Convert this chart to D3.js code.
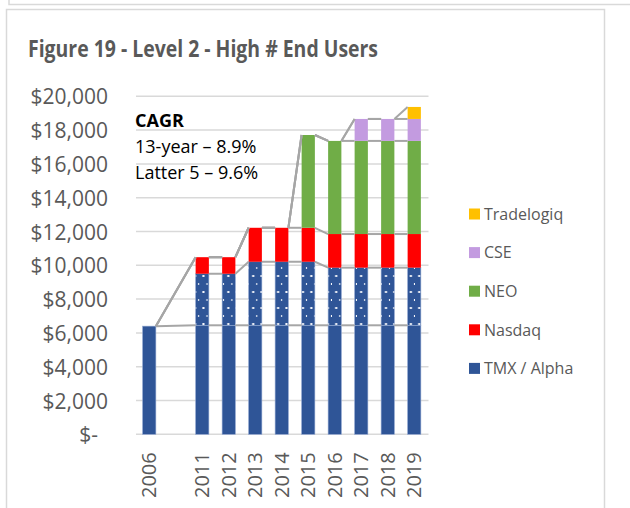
<!DOCTYPE html>
<html>
<head>
<meta charset="utf-8">
<script src="https://cdn.jsdelivr.net/npm/d3@7"></script>
<style>
  body { margin: 0; background: #fff; }
  svg { display: block; font-family: "Open Sans", sans-serif; }
</style>
</head>
<body>
<svg id="chart" width="630" height="508"></svg>
<script>
// categories (the blank slot is the gap between 2006 and 2011)
const categories = ["2006", "gap", "2011", "2012", "2013", "2014", "2015", "2016", "2017", "2018", "2019"];
const catLabels = ["2006", "", "2011", "2012", "2013", "2014", "2015", "2016", "2017", "2018", "2019"];

// stacked values, $ per month (null = no value)
const tmx        = [6400, null, 6450, 6450, 6450, 6450, 6450, 6450, 6450, 6450, 6450];
const alpha      = [null, null, 3050, 3050, 3760, 3760, 3760, 3410, 3410, 3410, 3410];
const nasdaq     = [null, null, 980, 980, 2010, 2010, 2010, 1990, 1990, 1990, 1990];
const neo        = [0, null, 0, 0, 0, 0, 5490, 5510, 5510, 5510, 5510];
const cse        = [0, null, 0, 0, 0, 0, 0, 0, 1300, 1300, 1300];
const tradelogiq = [0, null, 0, 0, 0, 0, 0, 0, 0, 0, 710];

const yTicks = [0, 2000, 4000, 6000, 8000, 10000, 12000, 14000, 16000, 18000, 20000];
const cagrLines = ["13-year \u2013 8.9%", "Latter 5 \u2013 9.6%"];

const series = [
    { name: "TMX", values: tmx, fill: "#2F5597" },
    { name: "Alpha", values: alpha, fill: "url(#dots)" },
    { name: "Nasdaq", values: nasdaq, fill: "#FF0000" },
    { name: "NEO", values: neo, fill: "#70AD47" },
    { name: "CSE", values: cse, fill: "#C39BE0" },
    { name: "Tradelogiq", values: tradelogiq, fill: "#FFC000" }
];
const legendItems = [
    { label: "Tradelogiq", color: "#FFC000" },
    { label: "CSE", color: "#C39BE0" },
    { label: "NEO", color: "#70AD47" },
    { label: "Nasdaq", color: "#FF0000" },
    { label: "TMX / Alpha", color: "#2F5597" }
];

const svg = d3.select("#chart");
const grey = "#595959";

// frames
svg.append("path").attr("d", "M9,0 V4.5 H630").attr("fill", "none")
    .attr("stroke", "#D9D9D9").attr("stroke-width", 1.5);
svg.append("path").attr("d", "M6.5,510 V9.5 H604.5 V510").attr("fill", "none")
    .attr("stroke", "#D9D9D9").attr("stroke-width", 1.5);

// dotted fill for the Alpha part
const defs = svg.append("defs");
const pat = defs.append("pattern").attr("id", "dots")
    .attr("patternUnits", "userSpaceOnUse").attr("width", 8.3).attr("height", 16);
pat.append("rect").attr("width", 8.3).attr("height", 16).attr("fill", "#2F5597");
pat.append("rect").attr("x", 3.2).attr("y", 3).attr("width", 2).attr("height", 2).attr("fill", "#fff");
pat.append("rect").attr("x", 7.3).attr("y", 11).attr("width", 2).attr("height", 2).attr("fill", "#fff");

// title
svg.append("text")
    .attr("x", 28).attr("y", 57)
    .attr("font-size", 23).attr("font-weight", "bold").attr("fill", grey)
    .attr("textLength", 350).attr("lengthAdjust", "spacingAndGlyphs")
    .text("Figure 19 - Level 2 - High # End Users");

const plotLeft = 136, plotRight = 427.5, plotTop = 96.3, plotBottom = 434.3;

const x = d3.scaleBand().domain(categories).range([plotLeft, plotRight])
    .paddingInner(0.5).paddingOuter(0.25);
const y = d3.scaleLinear().domain([0, 20000]).range([plotBottom, plotTop]);

// gridlines
svg.append("g").selectAll("line").data(yTicks).join("line")
    .attr("x1", plotLeft).attr("x2", plotRight + 1)
    .attr("y1", d => y(d)).attr("y2", d => y(d))
    .attr("stroke", "#D9D9D9").attr("stroke-width", 1.5);

// y axis
const yAxis = svg.append("g").attr("transform", "translate(" + plotLeft + ",0)")
    .call(d3.axisLeft(y).tickValues(yTicks).tickSize(0).tickPadding(28)
        .tickFormat(d => d === 0 ? "$-" : "$" + d3.format(",")(d)));
yAxis.select(".domain").remove();
yAxis.selectAll("text").attr("font-size", 21).attr("fill", grey)
    .attr("font-family", "Open Sans").attr("dy", "0.36em")
    .attr("dx", d => d === 0 ? -10 : 0);

// x axis
const xAxis = svg.append("g").attr("transform", "translate(0," + plotBottom + ")")
    .call(d3.axisBottom(x).tickSize(0).tickFormat((d, i) => catLabels[i]));
xAxis.select(".domain").remove();
xAxis.selectAll("text")
    .attr("font-size", 20).attr("fill", grey).attr("font-family", "Open Sans")
    .attr("transform", "rotate(-90)")
    .attr("text-anchor", "end")
    .attr("x", -18).attr("y", 0).attr("dy", "0.36em");

// stack
const cumul = series.map(() => []);
categories.forEach((c, i) => {
    let acc = 0;
    series.forEach((s, k) => {
        const v = s.values[i];
        cumul[k][i] = { y0: acc, y1: acc + (v || 0), v: v };
        acc += (v || 0);
    });
});

// bars
series.forEach((s, k) => {
    svg.append("g").selectAll("rect")
        .data(categories.map((c, i) => ({ c: c, d: cumul[k][i] })).filter(e => e.d.v))
        .join("rect")
        .attr("x", e => x(e.c))
        .attr("width", x.bandwidth())
        .attr("y", e => y(e.d.y1))
        .attr("height", e => y(e.d.y0) - y(e.d.y1))
        .attr("fill", s.fill)
        .attr("stroke", k < 2 ? "#8FA6D0" : "none")
        .attr("stroke-width", 0.6);
});

// series lines between neighbouring bars
const realIdx = categories.map((c, i) => i).filter(i => categories[i] !== "gap");
const lines = svg.append("g");
series.forEach((s, k) => {
    for (let j = 0; j < realIdx.length - 1; j++) {
        const a = realIdx[j], b = realIdx[j + 1];
        if (s.values[a] === null || s.values[b] === null) continue;
        lines.append("line")
            .attr("x1", x(categories[a]) + x.bandwidth())
            .attr("x2", x(categories[b]))
            .attr("y1", y(cumul[k][a].y1))
            .attr("y2", y(cumul[k][b].y1))
            .attr("stroke", "#A6A6A6").attr("stroke-width", 2);
    }
});

// CAGR note
svg.append("text").attr("x", 135).attr("y", 127)
    .attr("font-size", 18).attr("font-weight", "bold").attr("fill", "#000")
    .text("CAGR");
cagrLines.forEach((t, i) => {
    svg.append("text").attr("x", 135).attr("y", 153 + i * 25.5)
        .attr("font-size", 18).attr("fill", "#000")
        .text(t);
});

// legend
const legend = svg.append("g").attr("transform", "translate(469,214)");
legendItems.forEach((d, i) => {
    const g = legend.append("g").attr("transform", "translate(0," + (i * 38.6) + ")");
    g.append("rect").attr("x", 0).attr("y", -5.5).attr("width", 11).attr("height", 11).attr("fill", d.color);
    g.append("text").attr("x", 15).attr("y", 0).attr("dy", "0.36em")
        .attr("font-size", 16).attr("fill", grey).text(d.label);
});
</script>
</body>
</html>
